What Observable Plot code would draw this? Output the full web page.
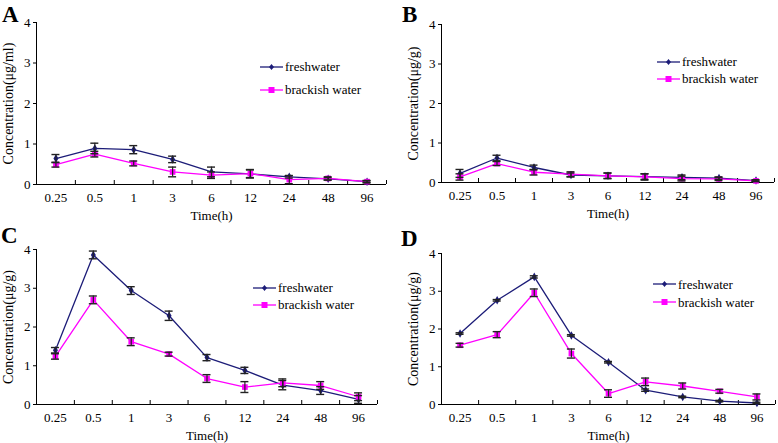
<!DOCTYPE html>
<html><head><meta charset="utf-8">
<script src="https://cdn.jsdelivr.net/npm/d3@7"></script>
<script src="https://cdn.jsdelivr.net/npm/@observablehq/plot@0.6"></script>
<style>
body{margin:0;background:#fff;}
#chart{position:relative;width:778px;height:443px;overflow:hidden;font-family:"Liberation Serif","Times New Roman",serif;color:#000;}
.panel{position:absolute;}
.letter{position:absolute;font-weight:bold;font-size:23px;line-height:1;}
.legend{position:absolute;font-size:13px;line-height:1;}
.legend .row{display:flex;align-items:center;white-space:nowrap;}
</style></head><body><div id="chart"></div>
<script>
// ---- data ----
const times = ["0.25","0.5","1","3","6","12","24","48","96"];
const yTicks = [0,1,2,3,4];
const seriesNames = ["freshwater","brackish water"];
const panelLetters = ["A","B","C","D"];
const yTitles = ["Concentration(μg/ml)","Concentration(μg/g)","Concentration(μg/g)","Concentration(μg/g)"];
const xTitle = "Time(h)";

const aFresh      = [0.64,0.89,0.86,0.62,0.31,0.26,0.19,0.14,0.07];
const aFreshSd    = [0.10,0.13,0.10,0.08,0.12,0.10,0.03,0.03,0.02];
const aBrackish   = [0.49,0.75,0.52,0.31,0.23,0.27,0.12,0.15,0.07];
const aBrackishSd = [0.06,0.07,0.06,0.12,0.08,0.10,0.10,0.04,0.03];

const bFresh      = [0.23,0.62,0.38,0.19,0.17,0.15,0.13,0.11,0.05];
const bFreshSd    = [0.10,0.07,0.06,0.05,0.07,0.07,0.06,0.03,0.02];
const bBrackish   = [0.14,0.48,0.26,0.21,0.17,0.14,0.10,0.09,0.04];
const bBrackishSd = [0.08,0.05,0.07,0.06,0.07,0.08,0.06,0.04,0.02];

const cFresh      = [1.40,3.86,2.94,2.29,1.21,0.88,0.50,0.36,0.13];
const cFreshSd    = [0.07,0.10,0.10,0.12,0.08,0.08,0.12,0.10,0.10];
const cBrackish   = [1.24,2.70,1.62,1.30,0.67,0.45,0.56,0.49,0.20];
const cBrackishSd = [0.07,0.10,0.10,0.05,0.10,0.14,0.10,0.10,0.10];

const dFresh      = [1.88,2.76,3.38,1.83,1.12,0.38,0.20,0.09,0.04];
const dFreshSd    = [0.02,0.02,0.03,0.02,0.02,0.03,0.02,0.02,0.02];
const dBrackish   = [1.57,1.85,2.96,1.35,0.29,0.60,0.49,0.35,0.20];
const dBrackishSd = [0.05,0.08,0.10,0.12,0.10,0.10,0.08,0.05,0.08];

// ---- layout / style ----
const FRESH_COLOR = "#1c1c78";
const BRACK_COLOR = "#ff00ff";
const FONT = "'Liberation Serif','Times New Roman',serif";

const panels = [
  {fresh:aFresh, freshSd:aFreshSd, brack:aBrackish, brackSd:aBrackishSd,
   left:0, top:0, width:389, height:222, mL:36, mR:3, mT:22, mB:38,
   letter:[2,3], legend:[260,55], gap:23},
  {fresh:bFresh, freshSd:bFreshSd, brack:bBrackish, brackSd:bBrackishSd,
   left:389, top:0, width:389, height:222, mL:52, mR:4, mT:24, mB:40,
   letter:[402,3], legend:[657,53], gap:17},
  {fresh:cFresh, freshSd:cFreshSd, brack:cBrackish, brackSd:cBrackishSd,
   left:0, top:222, width:389, height:221, mL:36, mR:12, mT:27, mB:39,
   letter:[1,224], legend:[253,279], gap:17},
  {fresh:dFresh, freshSd:dFreshSd, brack:dBrackish, brackSd:dBrackishSd,
   left:389, top:222, width:389, height:221, mL:52, mR:3, mT:31, mB:39,
   letter:[401,227], legend:[653,275], gap:18}
];

const chart = document.getElementById("chart");
const idx = d3.range(times.length);
const bounds = idx.map(i => i + 0.5);

panels.forEach((p, k) => {
  const rows = (vals, sds, s) => idx.map(i => ({i, v: vals[i], e: sds[i], s}));
  const fr = rows(p.fresh, p.freshSd, seriesNames[0]);
  const br = rows(p.brack, p.brackSd, seriesNames[1]);
  const all = fr.concat(br);
  const svg = Plot.plot({
    width: p.width, height: p.height,
    marginLeft: p.mL, marginRight: p.mR, marginTop: p.mT, marginBottom: p.mB,
    style: {fontFamily: FONT, fontSize: "13px", color: "#000", background: "transparent", overflow: "visible"},
    x: {type: "linear", domain: [-0.5, times.length - 0.5]},
    y: {type: "linear", domain: [0, 4]},
    marks: [
      Plot.axisY({ticks: yTicks, tickSize: 3, tickPadding: 3, label: null, tickFormat: d => String(d)}),
      Plot.axisX({ticks: idx, tickFormat: i => times[i], tickSize: 0, tickPadding: 8, label: null}),
      Plot.ruleX(bounds, {x: d => d, y1: 0, y2: 0, insetTop: -4, stroke: "#000"}),
      Plot.ruleX([-0.5], {stroke: "#000"}),
      Plot.ruleY([0], {stroke: "#000"}),
      Plot.text([xTitle], {frameAnchor: "bottom", dy: 31, lineAnchor: "middle", fontSize: 13, fontWeight: "normal", fill: "#000", stroke: "none"}),
      Plot.text([yTitles[k]], {frameAnchor: "left", dx: -28, rotate: -90, textAnchor: "middle", lineAnchor: "middle", fontSize: 14, fill: "#000", stroke: "none"}),
      Plot.line(fr, {x: "i", y: "v", stroke: FRESH_COLOR, strokeWidth: 1.3}),
      Plot.line(br, {x: "i", y: "v", stroke: BRACK_COLOR, strokeWidth: 1.3}),
      Plot.dot(fr, {x: "i", y: "v", symbol: "diamond", r: 2.6, fill: FRESH_COLOR, stroke: "none"}),
      Plot.dot(br, {x: "i", y: "v", symbol: "square", r: 3.2, fill: BRACK_COLOR, stroke: "none"}),
      Plot.ruleX(all, {x: "i", y1: d => d.v - d.e, y2: d => d.v + d.e, stroke: "#222", strokeWidth: 1.2}),
      Plot.ruleY(all, {y: d => d.v + d.e, x1: "i", x2: "i", insetLeft: -4, insetRight: -4, stroke: "#222", strokeWidth: 1.4}),
      Plot.ruleY(all, {y: d => d.v - d.e, x1: "i", x2: "i", insetLeft: -4, insetRight: -4, stroke: "#222", strokeWidth: 1.4})
    ]
  });
  svg.classList.add("panel");
  svg.style.left = p.left + "px";
  svg.style.top = p.top + "px";
  chart.appendChild(svg);

  const letter = document.createElement("div");
  letter.className = "letter";
  letter.textContent = panelLetters[k];
  letter.style.left = p.letter[0] + "px";
  letter.style.top = p.letter[1] + "px";
  chart.appendChild(letter);

  const lg = document.createElement("div");
  lg.className = "legend";
  lg.style.left = p.legend[0] + "px";
  lg.style.top = p.legend[1] + "px";
  [[seriesNames[0], FRESH_COLOR, "diamond"], [seriesNames[1], BRACK_COLOR, "square"]].forEach(([name, col, sym]) => {
    const row = document.createElement("div");
    row.className = "row";
    row.style.height = p.gap + "px";
    const mk = sym === "square"
      ? `<rect x="8.5" y="2" width="6" height="6" fill="${col}"/>`
      : `<path d="M11.5,2 L14,5 L11.5,8 L9,5 Z" fill="${col}"/>`;
    row.innerHTML = `<svg width="23" height="10" style="margin-right:2px"><line x1="0" y1="5" x2="23" y2="5" stroke="${col}" stroke-width="1.3"/>${mk}</svg><span>${name}</span>`;
    lg.appendChild(row);
  });
  chart.appendChild(lg);
});
</script></body></html>
